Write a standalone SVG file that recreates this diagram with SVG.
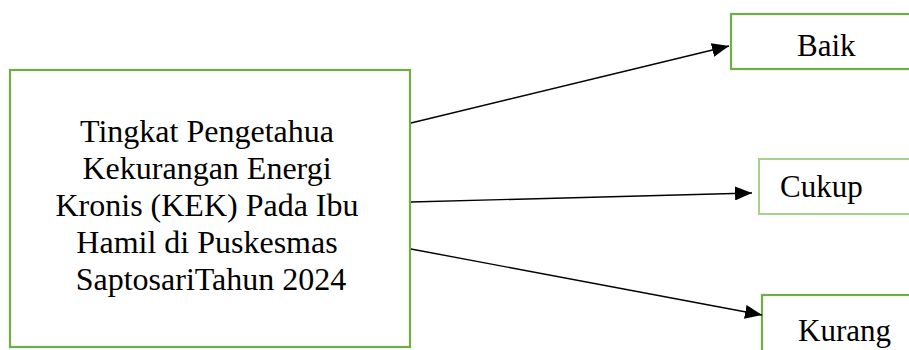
<svg xmlns="http://www.w3.org/2000/svg" width="909" height="350" viewBox="0 0 909 350">
<style>
.box{fill:#fff;stroke:#70AD47;stroke-width:2.2}
.box2{fill:#fff;stroke:#A9D18E;stroke-width:2}
.t{font-family:'Liberation Serif','Times New Roman',serif;font-size:31px;fill:#000}
.m{font-size:32px}
.c{stroke:#000;stroke-width:1.4;fill:none}
</style>
<defs>
<marker id="ah" markerUnits="userSpaceOnUse" markerWidth="18" markerHeight="14" refX="17" refY="7" orient="auto">
<path d="M0,0 L17,7 L0,14 Z" fill="#000"/>
</marker>
</defs>
<rect width="909" height="350" fill="#fff"/>
<g id="main">
<rect class="box" x="10" y="70" width="400" height="277"/>
<text class="t m" text-anchor="middle" x="211">
<tspan x="211" y="142">Tingkat Pengetahua</tspan>
<tspan x="211" y="179">Kekurangan Energi</tspan>
<tspan x="211" y="216">Kronis (KEK) Pada Ibu</tspan>
<tspan x="211" y="253">Hamil di Puskesmas</tspan>
<tspan x="211" y="290">SaptosariTahun 2024</tspan>
</text>
</g>
<g id="baik">
<rect class="box" x="731" y="14" width="190" height="55"/>
<text class="t" x="797" y="56">Baik</text>
</g>
<g id="cukup">
<rect class="box2" x="759" y="159" width="160" height="55"/>
<text class="t" x="780" y="197">Cukup</text>
</g>
<g id="kurang">
<rect class="box" x="762" y="295" width="160" height="70"/>
<text class="t" x="798" y="341">Kurang</text>
</g>
<g id="connectors">
<line class="c" x1="411" y1="123" x2="729" y2="46" marker-end="url(#ah)"/>
<line class="c" x1="411" y1="202" x2="752" y2="193" marker-end="url(#ah)"/>
<line class="c" x1="411" y1="249" x2="762" y2="315" marker-end="url(#ah)"/>
</g>
</svg>
